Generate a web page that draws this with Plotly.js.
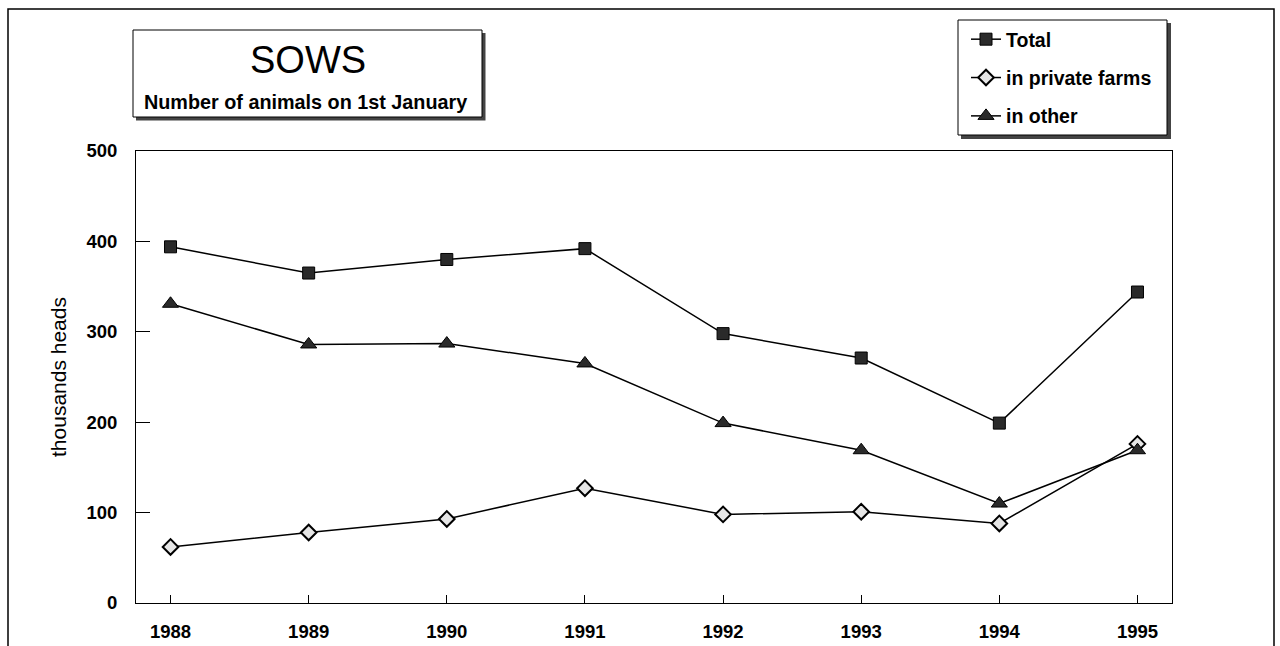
<!DOCTYPE html>
<html>
<head>
<meta charset="utf-8">
<script src="https://cdn.plot.ly/plotly-3.0.1.min.js"></script>
<style>html,body{margin:0;padding:0;background:#fff;}#chart{width:1280px;height:646px;}</style>
</head>
<body>
<div id="chart"></div>
<script>
var years = ['1988','1989','1990','1991','1992','1993','1994','1995'];
var total = [394, 365, 380, 392, 298, 271, 199, 344];
var privateFarms = [62, 78, 93, 127, 98, 101, 88, 176];
var other = [331, 286, 287, 265, 199, 169, 110, 169];
var seriesNames = ['Total', 'in private farms', 'in other'];
var yTicks = [0, 100, 200, 300, 400, 500];

var W = 1280, H = 646;
var L = 136, R = 1172, T = 151, B = 603;
function px(x){ return (x - L) / (R - L); }
function py(y){ return (B - y) / (B - T); }

var FONT = 'Arial, "Liberation Sans", sans-serif';
var lineStyle = {color: '#000', width: 1.5};

var traces = [
  {x: years, y: total, name: seriesNames[0], type: 'scatter', mode: 'lines+markers',
   legendgroup: 'a', line: lineStyle,
   marker: {symbol: 'square', size: 12, color: '#2a2a2a', line: {color: '#000', width: 1}}},
  {x: years, y: privateFarms, name: seriesNames[1], type: 'scatter', mode: 'lines+markers',
   legendgroup: 'b', line: lineStyle,
   marker: {symbol: 'diamond', size: 12, color: '#e6e6e6', line: {color: '#000', width: 2}}},
  {x: years, y: other, name: seriesNames[2], type: 'scatter', mode: 'lines+markers',
   legendgroup: 'c', line: lineStyle,
   marker: {symbol: 'triangle-up', size: 14, color: '#2a2a2a', line: {color: '#000', width: 1}}}
];

var shapes = [
  // outer frame
  {type: 'rect', xref: 'paper', yref: 'paper', x0: px(8), x1: px(1274), y0: py(680), y1: py(9),
   line: {color: '#000', width: 1.5}, fillcolor: 'rgba(0,0,0,0)', layer: 'below'},
  // title box shadow
  {type: 'rect', xref: 'paper', yref: 'paper', x0: px(136), x1: px(485.5), y0: py(120.5), y1: py(33),
   line: {width: 0}, fillcolor: '#444', layer: 'above'},
  // title box
  {type: 'rect', xref: 'paper', yref: 'paper', x0: px(133), x1: px(482), y0: py(117), y1: py(30),
   line: {color: '#000', width: 1}, fillcolor: '#fff', layer: 'above'},
  // legend shadow
  {type: 'rect', xref: 'paper', yref: 'paper', x0: px(961), x1: px(1171), y0: py(139), y1: py(23),
   line: {width: 0}, fillcolor: '#444', layer: 'above'},
  // legend box
  {type: 'rect', xref: 'paper', yref: 'paper', x0: px(958), x1: px(1167), y0: py(135), y1: py(20),
   line: {color: '#000', width: 1}, fillcolor: '#fff', layer: 'above'}
];

var annotations = [
  {text: 'SOWS', xref: 'paper', yref: 'paper', x: px(308), y: py(60), xanchor: 'center', yanchor: 'middle',
   showarrow: false, font: {family: FONT, size: 38, color: '#000'}},
  {text: '<b>Number of animals on 1st January</b>', xref: 'paper', yref: 'paper', x: px(305), y: py(102),
   xanchor: 'center', yanchor: 'middle', showarrow: false, font: {family: FONT, size: 19.8, color: '#000'}}
];

var layout = {
  width: W, height: H,
  margin: {l: L, r: W - R, t: T, b: H - B, pad: 0},
  paper_bgcolor: '#fff', plot_bgcolor: '#fff',
  showlegend: true,
  legend: {x: px(966), y: py(20), xanchor: 'left', yanchor: 'top',
    bgcolor: 'rgba(0,0,0,0)', borderwidth: 0,
    font: {family: FONT, size: 19.5, color: '#000', weight: 'bold'},
    tracegroupgap: 10, itemwidth: 30},
  xaxis: {type: 'category', range: [-0.25, 7.25], showgrid: false, zeroline: false,
    showline: true, linecolor: '#000', linewidth: 1, mirror: true,
    ticks: 'inside', ticklen: 8, tickcolor: '#000', tickwidth: 1,
    ticklabelstandoff: 12,
    tickfont: {family: FONT, size: 18.5, color: '#000', weight: 'bold'}},
  yaxis: {range: [0, 500], tickvals: yTicks, showgrid: false, zeroline: false,
    showline: true, linecolor: '#000', linewidth: 1, mirror: true,
    ticks: 'inside', ticklen: 14, tickcolor: '#000', tickwidth: 1,
    ticklabelstandoff: 14,
    tickfont: {family: FONT, size: 18.5, color: '#000', weight: 'bold'},
    title: {text: 'thousands heads', standoff: 14, font: {family: FONT, size: 21, color: '#000'}}},
  shapes: shapes,
  annotations: annotations
};

Plotly.newPlot('chart', traces, layout, {displayModeBar: false, staticPlot: true});
</script>
</body>
</html>
